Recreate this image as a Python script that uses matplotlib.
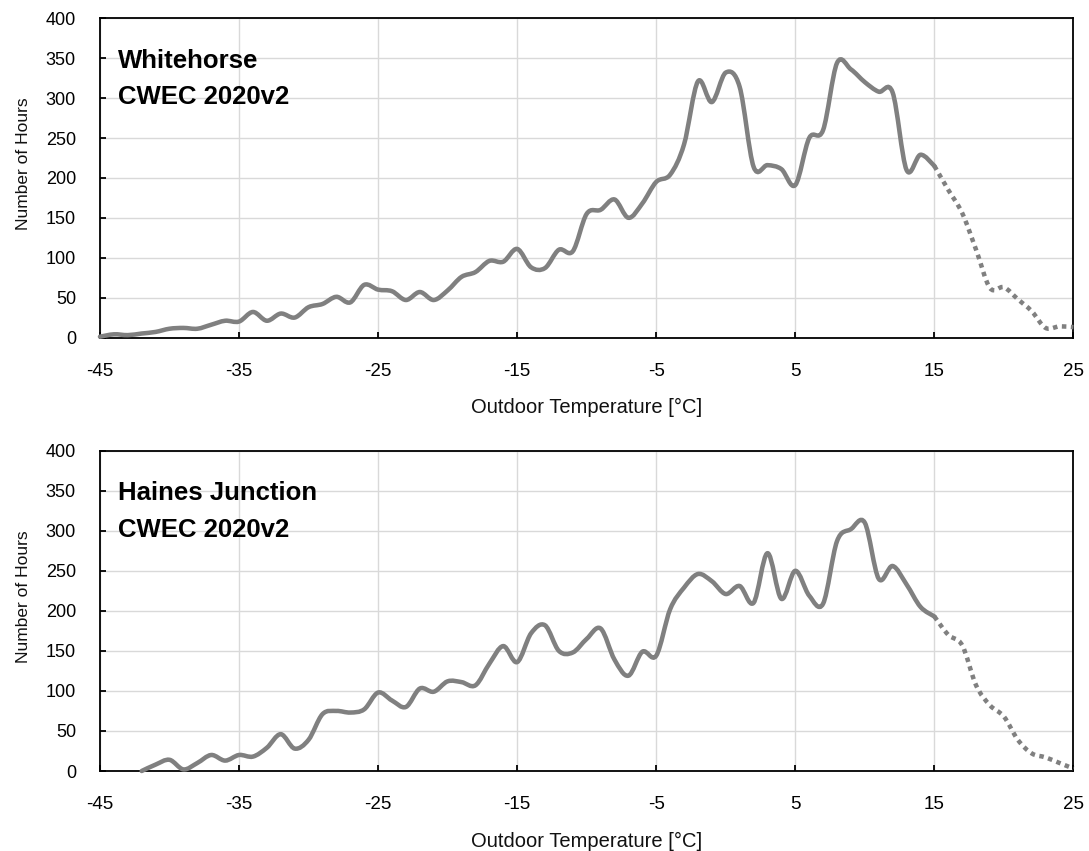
import numpy as np
import matplotlib
matplotlib.use("Agg")
import matplotlib.pyplot as plt
from matplotlib.path import Path
from matplotlib.patches import PathPatch

plt.rcParams['font.family'] = ['Liberation Sans', 'DejaVu Sans']
plt.rcParams['axes.unicode_minus'] = False

# ---------------- data ----------------
# Whitehorse: hours per 1 degC bin (solid part up to 15 degC, dotted beyond)
wh_temp = list(range(-45, 26))
wh_hours = [1, 4, 3, 5, 7, 11, 12, 11, 16, 21,          # -45 .. -36
            20, 32, 21, 30, 25, 38, 42, 51, 44, 66,     # -35 .. -26
            60, 58, 47, 57, 47, 59, 76, 82, 96, 95,     # -25 .. -16
            111, 88, 87, 110, 108, 155, 160, 173, 150, 168,  # -15 .. -6
            195, 204, 242, 321, 295, 332, 314, 214, 216, 211,  # -5 .. 4
            191, 250, 260, 344, 336, 320, 308, 307, 210, 229,  # 5 .. 14
            215, 185, 156, 110, 62, 63, 48, 33, 12, 14,        # 15 .. 24
            13]                                                 # 25

# Haines Junction: data start at -42 degC
hj_temp = list(range(-42, 26))
hj_hours = [0, 8, 14, 2, 10, 20, 13, 20,                # -42 .. -35
            18, 29, 46, 28, 39, 71, 75, 73, 77, 98,     # -34 .. -25
            88, 80, 103, 99, 112, 111, 107, 134, 156, 136,  # -24 .. -15
            172, 182, 150, 148, 165, 178, 139, 119, 149, 144,  # -14 .. -5
            202, 229, 246, 237, 221, 231, 210, 272, 215, 250,  # -4 .. 5
            219, 209, 287, 302, 310, 240, 256, 233, 205, 193,  # 6 .. 15
            170, 157, 107, 82, 68, 39, 22, 17, 10, 3]          # 16 .. 25

split_temp = 15
stations = [("Whitehorse", "CWEC 2020v2", wh_temp, wh_hours),
            ("Haines Junction", "CWEC 2020v2", hj_temp, hj_hours)]

x_ticks = list(range(-45, 26, 10))
y_ticks = list(range(0, 401, 50))
x_label = "Outdoor Temperature [°C]"
y_label = "Number of Hours"

line_color = "#808080"
grid_color = "#d9d9d9"


def smooth_path(x, y):
    """Excel-like smoothed line: cubic Bezier through every data point."""
    pts = np.column_stack([x, y]).astype(float)
    n = len(pts)
    verts = [pts[0]]
    codes = [Path.MOVETO]
    for i in range(n - 1):
        p0 = pts[i - 1] if i > 0 else pts[i]
        p1 = pts[i]
        p2 = pts[i + 1]
        p3 = pts[i + 2] if i + 2 < n else pts[i + 1]
        c1 = p1 + (p2 - p0) / 6.0
        c2 = p2 - (p3 - p1) / 6.0
        verts += [c1, c2, p2]
        codes += [Path.CURVE4] * 3
    return Path(np.array(verts), codes)


fig = plt.figure(figsize=(10.89, 8.51), dpi=100)
positions = [[0.0918, 0.6034, 0.8939, 0.3751],
             [0.0918, 0.0940, 0.8939, 0.3764]]

for pos, (name, sub, temps, hours) in zip(positions, stations):
    ax = fig.add_axes(pos)
    ax.set_xlim(-45, 25)
    ax.set_ylim(0, 400)
    ax.set_xticks(x_ticks)
    ax.set_yticks(y_ticks)
    ax.grid(True, color=grid_color, linewidth=1.0, zorder=0)
    ax.set_axisbelow(True)

    temps = np.array(temps)
    hours = np.array(hours, dtype=float)
    solid = temps <= split_temp
    dotted = temps >= split_temp

    p1 = PathPatch(smooth_path(temps[solid], hours[solid]), fill=False,
                   edgecolor=line_color, linewidth=3.25, capstyle='round',
                   joinstyle='round', zorder=3, clip_on=False)
    ax.add_patch(p1)
    p2 = PathPatch(smooth_path(temps[dotted], hours[dotted]), fill=False,
                   edgecolor=line_color, linewidth=3.25, linestyle=(0, (1, 1)),
                   capstyle='butt', joinstyle='miter', zorder=3, clip_on=False)
    ax.add_patch(p2)

    for s in ax.spines.values():
        s.set_color("black")
        s.set_linewidth(1.3)
        s.set_zorder(2)

    ax.tick_params(axis='both', direction='in', length=4, width=1.3,
                   color='black', labelcolor='black')
    ax.tick_params(axis='x', pad=18.3, labelsize=13.5)
    ax.tick_params(axis='y', pad=17.3, labelsize=13)

    ax.set_xlabel(x_label, fontsize=14.5, color='#111111')
    ax.xaxis.set_label_coords(0.5, -0.189)
    ax.set_ylabel(y_label, fontsize=12.5, color='#111111')
    ax.yaxis.set_label_coords(-0.071, 0.543)

    ax.text(0.0185, 0.845, name, transform=ax.transAxes, fontsize=18.5,
            fontweight='bold', color='black', ha='left', va='baseline')
    ax.text(0.0185, 0.73, sub, transform=ax.transAxes, fontsize=18.5,
            fontweight='bold', color='black', ha='left', va='baseline')

fig.savefig("out.png", dpi=100, facecolor='white')
